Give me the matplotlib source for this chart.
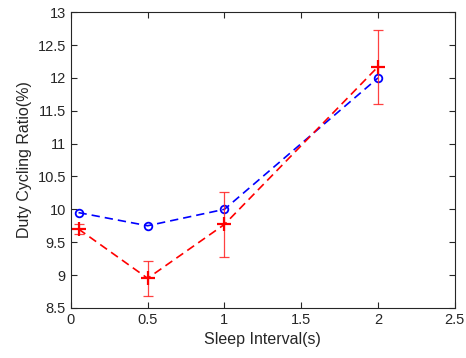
import numpy as np
import matplotlib
matplotlib.use('Agg')
import matplotlib.pyplot as plt

# data
sleep_interval = [0.05, 0.5, 1.0, 2.0]
blue_ratio = [9.95, 9.75, 10.0, 12.0]
red_ratio = [9.70, 8.95, 9.77, 12.17]
red_err = [0.07, 0.27, 0.50, 0.56]
x_ticks = [0, 0.5, 1, 1.5, 2, 2.5]
y_ticks = [8.5, 9, 9.5, 10, 10.5, 11, 11.5, 12, 12.5, 13]

plt.rcParams['font.family'] = ['Liberation Sans', 'DejaVu Sans']

fig = plt.figure(figsize=(4.66, 3.58), dpi=100)
ax = fig.add_axes([0.152, 0.14, 0.824, 0.826])

ax.plot(sleep_interval, blue_ratio, '--', color='#0000ff', lw=1.2,
        dashes=(5, 3))
ax.plot(sleep_interval, blue_ratio, 'o', color='#0000ff', markersize=5.5,
        markerfacecolor='none', markeredgewidth=1.3)

# error bars, thin and a bit faded like the reference
ax.errorbar(sleep_interval, red_ratio, yerr=red_err, fmt='none',
            ecolor='#ff2020', elinewidth=0.9, capsize=3.5, capthick=0.9,
            alpha=0.85)
ax.plot(sleep_interval, red_ratio, '--', color='#ff0000', lw=1.2,
        dashes=(5, 3))
ax.plot(sleep_interval, red_ratio, '+', color='#ff0000', markersize=10,
        markeredgewidth=1.6)

ax.set_xlim(0, 2.5)
ax.set_ylim(8.5, 13)
ax.set_xticks(x_ticks)
ax.set_xticklabels([f'{t:g}' for t in x_ticks])
ax.set_yticks(y_ticks)
ax.set_yticklabels([f'{t:g}' for t in y_ticks])
ax.tick_params(direction='in', top=True, right=True, labelsize=10.5,
               length=4, width=0.8, colors='#262626')
for s in ax.spines.values():
    s.set_linewidth(0.8)
    s.set_color('#262626')

ax.set_xlabel('Sleep Interval(s)', fontsize=11.5, color='#262626')
ax.set_ylabel('Duty Cycling Ratio(%)', fontsize=11.5, color='#262626')

fig.savefig('out.png', dpi=100)
